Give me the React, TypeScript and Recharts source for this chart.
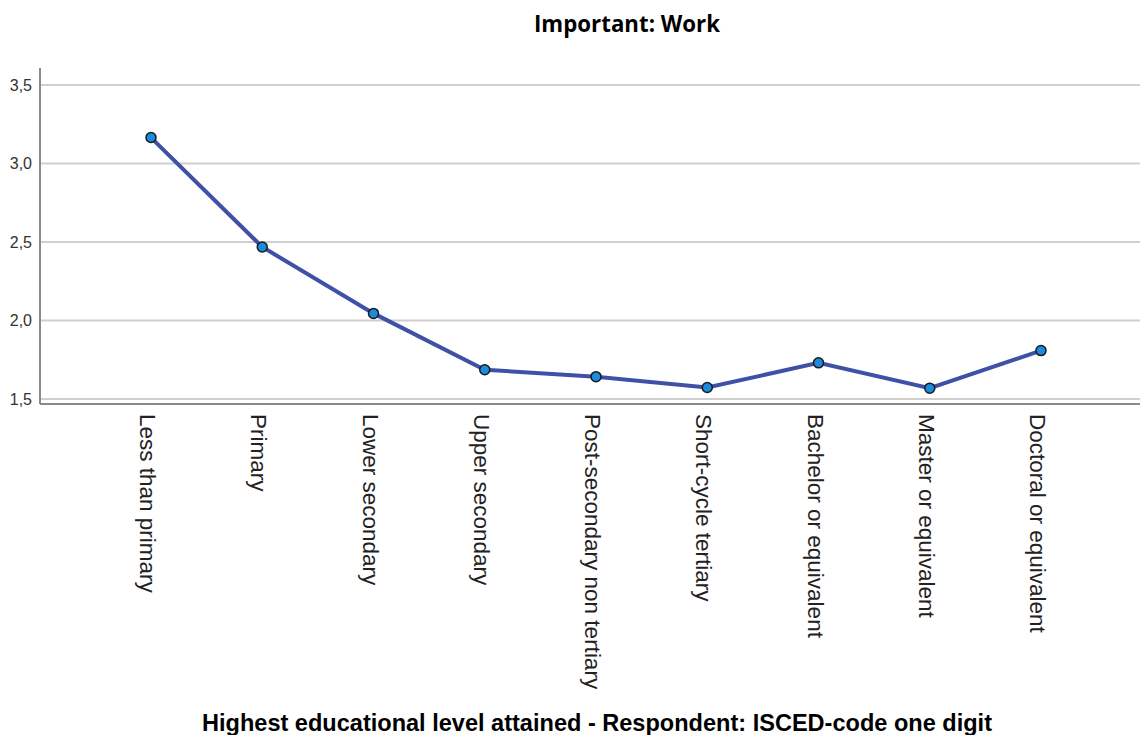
import React from "react";
import { LineChart, Line, XAxis, YAxis, CartesianGrid } from "recharts";

const categories = [
  "Less than primary",
  "Primary",
  "Lower secondary",
  "Upper secondary",
  "Post-secondary non tertiary",
  "Short-cycle tertiary",
  "Bachelor or equivalent",
  "Master or equivalent",
  "Doctoral or equivalent",
];
const means = [3.165, 2.468, 2.045, 1.686, 1.642, 1.573, 1.73, 1.569, 1.808];
const yTicks = [1.5, 2.0, 2.5, 3.0, 3.5];
const yDomain: [number, number] = [1.468, 3.608];
const chartTitle = "Important: Work";
const xAxisTitle = "Highest educational level attained - Respondent: ISCED-code one digit";

const data = categories.map((c, i) => ({ category: c, value: means[i] }));

const XTick = (props: any) => {
  const { x, payload } = props;
  return (
    <text
      transform={`translate(${x},414) rotate(90)`}
      dy={11}
      fontSize={22.5}
      fontFamily="'Liberation Sans', Arial, sans-serif"
      fill="#222"
      textAnchor="start"
    >
      {payload.value}
    </text>
  );
};

const gridGen = (p: any) => {
  const s = p && p.yAxis && p.yAxis.scale;
  if (typeof s === "function") return yTicks.map((t) => s(t));
  if (s && typeof s.map === "function") return yTicks.map((t) => s.map(t));
  const top = p.offset.top;
  const h = p.offset.height;
  return yTicks.map((t) => top + (h * (yDomain[1] - t)) / (yDomain[1] - yDomain[0]));
};

export default function App() {
  return (
    <div style={{ position: "absolute", left: 0, top: 0, width: 1140, height: 735, background: "#fff" }}>
      <LineChart
        width={1140}
        height={735}
        data={data}
        margin={{ top: 68, right: 0, bottom: 0, left: 0 }}
      >
        <CartesianGrid
          horizontal={true}
          vertical={false}
          stroke="#cfcfcf"
          strokeWidth={2}
          horizontalCoordinatesGenerator={gridGen}
        />
        <XAxis
          dataKey="category"
          type="category"
          scale="point"
          padding={{ left: 111, right: 99 }}
          height={331}
          axisLine={{ stroke: "#8a8a8a", strokeWidth: 2 }}
          tickLine={false}
          interval={0}
          tick={<XTick />}
        />
        <YAxis
          type="number"
          domain={yDomain}
          ticks={yTicks}
          width={40}
          allowDataOverflow={true}
          axisLine={{ stroke: "#8a8a8a", strokeWidth: 2 }}
          tickLine={false}
          tickFormatter={(v: number) => v.toFixed(1).replace(".", ",")}
          tick={{ fontSize: 16, fill: "#333", fontFamily: "'Liberation Sans', Arial, sans-serif" }}
        />
        <Line
          type="linear"
          dataKey="value"
          stroke="#3f51a6"
          strokeWidth={4}
          isAnimationActive={false}
          dot={{ r: 5, fill: "#1b8be0", stroke: "#1a1a1a", strokeWidth: 1.5 }}
          activeDot={false}
        />
      </LineChart>
      <svg
        width={1140}
        height={735}
        style={{ position: "absolute", left: 0, top: 0, pointerEvents: "none" }}
      >
        <text
          x={534}
          y={32}
          fontSize={23}
          fontWeight={700}
          fontFamily="'Open Sans', sans-serif"
          fill="#000"
          textLength={186}
          lengthAdjust="spacingAndGlyphs"
        >
          {chartTitle}
        </text>
        <text
          x={202}
          y={731}
          fontSize={24}
          fontWeight={700}
          fontFamily="'Liberation Sans', Arial, sans-serif"
          fill="#000"
          textLength={790}
          lengthAdjust="spacingAndGlyphs"
        >
          {xAxisTitle}
        </text>
      </svg>
    </div>
  );
}
